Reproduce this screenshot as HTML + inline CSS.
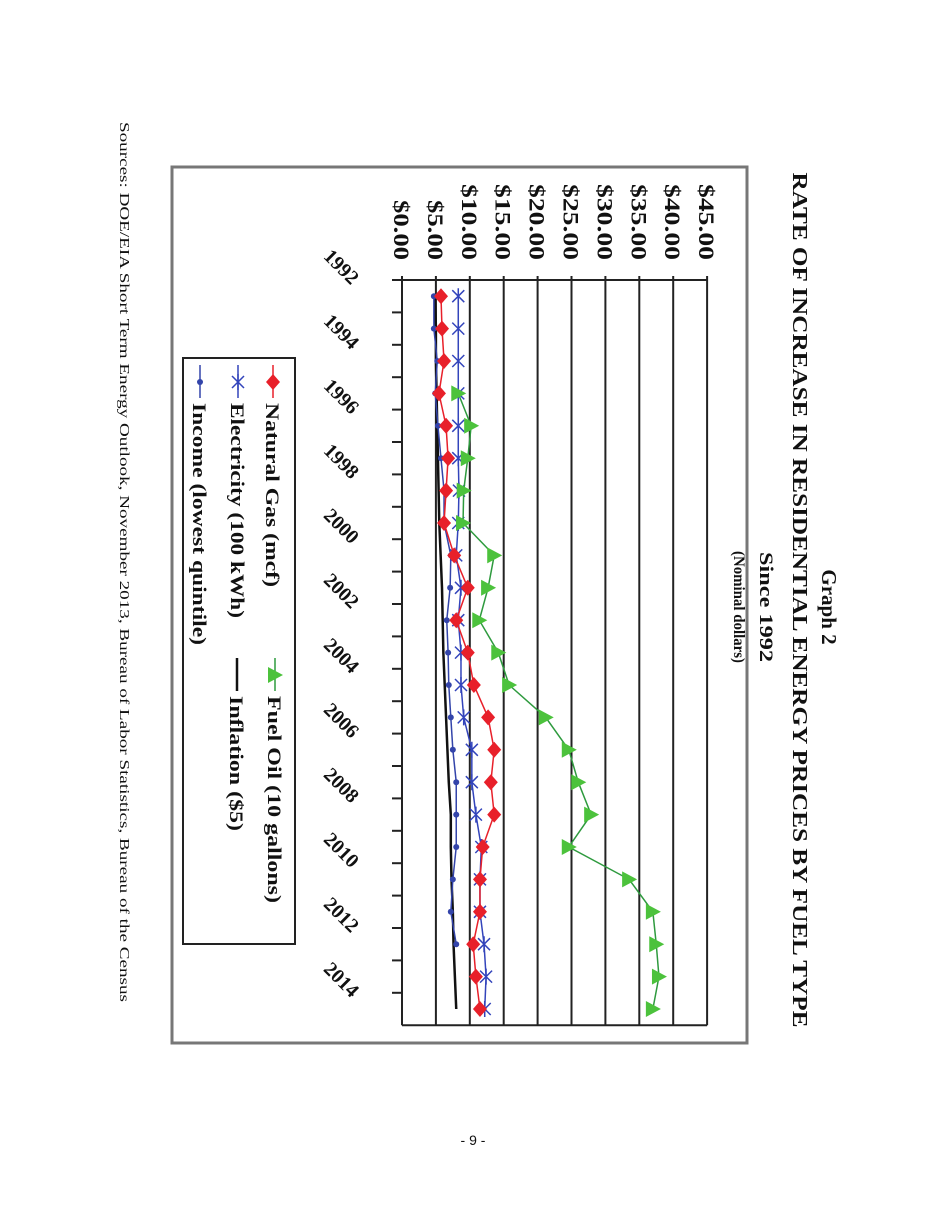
<!DOCTYPE html>
<html><head><meta charset="utf-8"><style>
html,body{margin:0;padding:0;background:#fff;}
svg{display:block;}
text{font-family:"Liberation Serif","Times New Roman",serif;font-weight:bold;fill:#111;}
</style></head><body>
<svg width="950" height="1230" viewBox="0 0 950 1230" xmlns="http://www.w3.org/2000/svg">
<rect x="172" y="167" width="575" height="876" fill="#fff" stroke="#777" stroke-width="3"/>
<text x="0" y="0" transform="translate(822,607) rotate(90)" text-anchor="middle" font-size="21">Graph 2</text>
<text x="0" y="0" transform="translate(793,600) rotate(90)" text-anchor="middle" font-size="21" textLength="855" lengthAdjust="spacingAndGlyphs">RATE OF INCREASE IN RESIDENTIAL ENERGY PRICES BY FUEL TYPE</text>
<text x="0" y="0" transform="translate(760,607) rotate(90)" text-anchor="middle" font-size="19" textLength="110" lengthAdjust="spacingAndGlyphs">Since 1992</text>
<text x="0" y="0" transform="translate(734,607) rotate(90)" text-anchor="middle" font-size="16" textLength="112" lengthAdjust="spacingAndGlyphs">(Nominal dollars)</text>
<g id="plot"></g>
<rect x="183" y="358" width="112" height="586" fill="#fff" stroke="#222" stroke-width="2"/>
<g id="legend"></g>
<text x="0" y="0" transform="translate(120,122) rotate(90)" font-size="14" textLength="880" lengthAdjust="spacingAndGlyphs" style="font-weight:normal">Sources:  DOE/EIA Short Term Energy Outlook, November 2013, Bureau of Labor Statistics, Bureau of the Census</text>
<text x="473" y="1145" text-anchor="middle" font-size="14" style="font-family:'Liberation Sans',sans-serif;font-weight:normal">- 9 -</text>
</svg>
<script>
const years = ["1992","1993","1994","1995","1996","1997","1998","1999","2000","2001","2002","2003","2004","2005","2006","2007","2008","2009","2010","2011","2012","2013","2014"];
const yearLabels = ["1992","1994","1996","1998","2000","2002","2004","2006","2008","2010","2012","2014"];
const valueTicks = [0,5,10,15,20,25,30,35,40,45];
const naturalGas = [5.75,5.9,6.2,5.45,6.5,6.8,6.5,6.2,7.7,9.7,8.0,9.7,10.6,12.7,13.6,13.1,13.6,11.9,11.5,11.5,10.5,10.9,11.5];
const electricity = [8.3,8.3,8.3,8.3,8.3,8.3,8.4,8.3,8.0,8.7,8.3,8.7,8.7,9.1,10.3,10.3,10.9,11.7,11.5,11.5,12.1,12.4,12.2];
const fuelOil = [null,null,null,8.3,10.2,9.7,9.1,9.0,13.6,12.7,11.4,14.2,15.8,21.2,24.6,26.0,27.9,24.6,33.5,37.0,37.5,37.9,37.0];
const income = [4.7,4.7,5.2,4.9,5.3,5.75,6.2,6.2,7.2,7.1,6.6,6.8,6.9,7.2,7.5,8.0,8.0,8.0,7.5,7.2,8.0,null,null];
const inflation = [4.9,5.0,5.0,5.1,5.2,5.3,5.4,5.5,5.7,5.9,6.0,6.1,6.3,6.5,6.7,6.9,7.2,7.2,7.3,7.5,7.6,7.8,8.0];

const NS="http://www.w3.org/2000/svg";
const plotG=document.getElementById('plot');
const legG=document.getElementById('legend');
const X0=402, PX=6.78, Y0=280, BAND=32.4;
function xv(v){return X0+v*PX;}
function yc(i){return Y0+BAND*(i+0.5);}
function mk(tag,attrs,parent){const e=document.createElementNS(NS,tag);for(const k in attrs)e.setAttribute(k,attrs[k]);(parent||plotG).appendChild(e);return e;}
const yEnd=Y0+BAND*years.length;
valueTicks.forEach(v=>{
  const g=mk('line',{x1:xv(v),x2:xv(v),y1:Y0-4,y2:yEnd,stroke:'#222','stroke-width':2});
  
  
  const t=mk('text',{transform:`translate(${xv(v)-8},260) rotate(90)`,'text-anchor':'end','font-size':22});
  t.textContent='$'+v.toFixed(2);
  t.setAttribute('textLength',v>=10?76:60);
  t.setAttribute('lengthAdjust','spacingAndGlyphs');
  
  
});
const topAxis=mk('line',{x1:X0-10,x2:xv(45),y1:Y0,y2:Y0,stroke:'#222','stroke-width':2});


const botAxis=mk('line',{x1:X0,x2:xv(45),y1:yEnd,y2:yEnd,stroke:'#222','stroke-width':2});


for(let i=1;i<years.length;i++){
  const tk=mk('line',{x1:X0-10,x2:X0,y1:Y0+BAND*i,y2:Y0+BAND*i,stroke:'#222','stroke-width':2});
  
  
}
years.forEach((y,i)=>{
  if(!yearLabels.includes(y))return;
  const t=mk('text',{transform:`translate(340,${yc(i)-28}) rotate(45)`,'text-anchor':'middle','dominant-baseline':'middle','font-size':20});
  t.textContent=y;
  
  
});
function marker(type,cx,cy,color,parent){
  const p=parent||plotG;let e;
  if(type==='diamond'){e=mk('polygon',{points:`${cx},${cy-8} ${cx+7},${cy} ${cx},${cy+8} ${cx-7},${cy}`,fill:color},p);}
  else if(type==='star'){e=mk('path',{d:`M${cx-6},${cy-6}L${cx+6},${cy+6}M${cx-6},${cy+6}L${cx+6},${cy-6}M${cx},${cy-8}L${cx},${cy+8}`,stroke:color,'stroke-width':1.5,fill:'none'},p);}
  else if(type==='tri'){e=mk('polygon',{points:`${cx-7},${cy-8} ${cx+8},${cy} ${cx-7},${cy+8}`,fill:color},p);}
  else {e=mk('circle',{cx:cx,cy:cy,r:3,fill:color},p);}
  return e;
}
function series(data,color,mcolor,type,name,width){
  let d='';
  data.forEach((v,i)=>{if(v==null)return;d+=(d?'L':'M')+xv(v)+','+yc(i);});
  const l=mk('path',{d:d,stroke:color,'stroke-width':width,fill:'none'});
  
  
  if(type){data.forEach((v,i)=>{if(v==null)return;const m=marker(type,xv(v),yc(i),mcolor);
    
    });}
}
series(inflation,'#111','#111',null,'inflation',2.5);
series(income,'#3344aa','#3344aa','dot','income',1.5);
series(electricity,'#3344bb','#3344bb','star','electricity',1.5);
series(fuelOil,'#2e9a3e','#4cc23c','tri','fuel-oil',1.5);
series(naturalGas,'#e8202a','#e8202a','diamond','natural-gas',1.5);
const items=[
 {label:'Natural Gas (mcf)',color:'#e8202a',type:'diamond',x:273,y0:365,len:184},
 {label:'Electricity (100 kWh)',color:'#3344bb',type:'star',x:238,y0:365,len:215},
 {label:'Income (lowest quintile)',color:'#3344aa',type:'dot',x:200,y0:365,len:242},
 {label:'Fuel Oil (10 gallons)',color:'#4cc23c',type:'tri',x:275,y0:658,len:207},
 {label:'Inflation ($5)',color:'#111',type:null,x:237,y0:658,len:135}
];
items.forEach(it=>{
  const g=mk('g',{},legG);
  
  
  mk('line',{x1:it.x,x2:it.x,y1:it.y0,y2:it.y0+33,stroke:it.color==='#4cc23c'?'#2e9a3e':it.color,'stroke-width':it.type?1.5:2.5},g);
  if(it.type)marker(it.type,it.x,it.y0+17,it.color,g);
  const t=mk('text',{transform:`translate(${it.x-7},${it.y0+38}) rotate(90)`,'font-size':19,textLength:it.len,lengthAdjust:'spacingAndGlyphs'},g);
  t.textContent=it.label;
});
</script>
</body></html>
